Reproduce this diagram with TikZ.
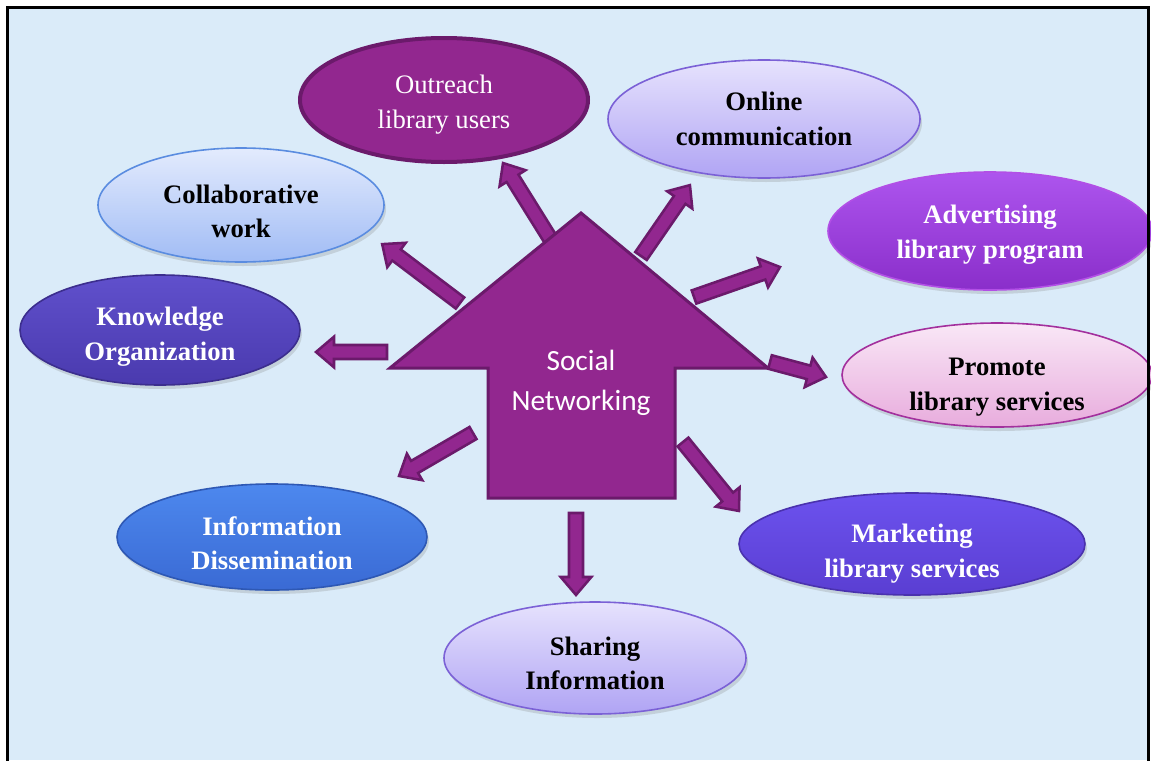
\documentclass[tikz,border=0pt]{standalone}
\usepackage{fontspec}
\setmainfont{Liberation Serif}
\newfontfamily\calibfont{Carlito}
\usepackage{tikz}
\usetikzlibrary{shapes.geometric,calc,shadows}
\definecolor{pageBlue}{HTML}{DAEBF9}
\definecolor{plumFill}{HTML}{92278F}
\definecolor{plumDraw}{HTML}{6B1A6B}
\definecolor{lavTop}{HTML}{E6E2FD}
\definecolor{lavBot}{HTML}{B0A4F4}
\definecolor{lavDraw}{HTML}{7B61D6}
\definecolor{skyTop}{HTML}{E3EBFD}
\definecolor{skyBot}{HTML}{A1BCF5}
\definecolor{skyDraw}{HTML}{5A8CE0}
\definecolor{violTop}{HTML}{AD55EE}
\definecolor{violBot}{HTML}{8A2ECA}
\definecolor{violDraw}{HTML}{B24FE6}
\definecolor{indTop}{HTML}{6050CC}
\definecolor{indBot}{HTML}{4A3AAE}
\definecolor{indDraw}{HTML}{3C2E8E}
\definecolor{pinkTop}{HTML}{F9E7F6}
\definecolor{pinkBot}{HTML}{E8ACDD}
\definecolor{pinkDraw}{HTML}{A3309D}
\definecolor{blueTop}{HTML}{4D88EE}
\definecolor{blueBot}{HTML}{3A6AD4}
\definecolor{blueDraw}{HTML}{2E58B4}
\definecolor{mktTop}{HTML}{6C52EE}
\definecolor{mktBot}{HTML}{5A3ED2}
\definecolor{mktDraw}{HTML}{4A32AE}

% thick outlined arrow from tail #1 to tip #2
\newcommand\blockarrow[2]{%
  \draw[smallarrow] let \p1=($(#2)-(#1)$), \n1={atan2(\y1,\x1)}, \n2={veclen(\x1,\y1)} in
    [shift={(#1)}, rotate=\n1]
    (0pt,5.25pt) -- ({\n2*1pt-13.5pt},5.25pt) -- ({\n2*1pt-13.5pt},11.5pt)
    -- ({\n2*1pt},0pt) -- ({\n2*1pt-13.5pt},-11.5pt) -- ({\n2*1pt-13.5pt},-5.25pt)
    -- (0pt,-5.25pt) -- cycle;}

\begin{document}
\begin{tikzpicture}[
  x=0.75pt, y=-0.75pt,
  bubble/.style={ellipse, inner xsep=0pt, inner ysep=-12pt, align=center, line width=1.2pt,
                 font=\fontsize{20}{26}\selectfont\bfseries},
  textdrop/.style={text height=#1},
  gloss/.style={drop shadow={shadow xshift=1.5pt, shadow yshift=-3pt, opacity=0.25}},
  smallarrow/.style={draw=plumDraw, fill=plumFill, line width=1.9pt, line join=miter},
]
\useasboundingbox (0,0) rectangle (1151,760);
\fill[pageBlue] (8,8) rectangle (1148,760);

% ---- Bubbles ----
\node[bubble, fill=plumFill, draw=plumDraw, line width=3pt, text=white, textdrop=46.5pt,
      font=\fontsize{20}{26}\selectfont, minimum width=216pt, minimum height=93pt]
  (outreach) at (444,100) {Outreach\\library users};
\node[bubble, gloss, top color=lavTop, bottom color=lavBot, draw=lavDraw,
      minimum width=234pt, minimum height=88.5pt]
  (online) at (764,119) {Online\\communication};
\node[bubble, gloss, top color=skyTop, bottom color=skyBot, draw=skyDraw, textdrop=49.5pt,
      minimum width=214.5pt, minimum height=85.5pt]
  (collab) at (241,205) {Collaborative\\work};
\node[bubble, gloss, top color=violTop, bottom color=violBot, draw=violDraw, text=white,
      textdrop=45pt, minimum width=243pt, minimum height=88.5pt]
  (advert) at (990,231) {Advertising\\library program};
\node[bubble, gloss, top color=indTop, bottom color=indBot, draw=indDraw, text=white,
      textdrop=49.5pt, minimum width=210pt, minimum height=82.5pt]
  (knowledge) at (160,330) {Knowledge\\Organization};
\node[bubble, gloss, top color=pinkTop, bottom color=pinkBot, draw=pinkDraw, textdrop=57pt,
      minimum width=232.5pt, minimum height=78pt]
  (promote) at (997,375) {Promote\\library services};
\node[bubble, gloss, top color=blueTop, bottom color=blueBot, draw=blueDraw, text=white,
      textdrop=49.5pt, minimum width=232.5pt, minimum height=79.5pt]
  (dissem) at (272,537) {Information\\Dissemination};
\node[bubble, gloss, top color=mktTop, bottom color=mktBot, draw=mktDraw, text=white,
      textdrop=54pt, minimum width=259.5pt, minimum height=76.5pt]
  (market) at (912,544) {Marketing\\library services};
\node[bubble, gloss, top color=lavTop, bottom color=lavBot, draw=lavDraw, textdrop=48pt,
      minimum width=226.5pt, minimum height=84pt]
  (sharing) at (595,658) {Sharing\\Information};

% ---- Arrow ends ----
\foreach \spoke/\tx/\ty/\hx/\hy in {
    outreach/551/240/503/163, online/641/256/690/185, collab/460/303/382/244,
    advert/694/297/780/267, knowledge/387/352/316/352, promote/770/362/826/377,
    dissem/473/433/399/476, sharing/576/513/576/595, market/683/442/739/511}{
  \coordinate (\spoke-tail) at (\tx,\ty);
  \coordinate (\spoke-tip) at (\hx,\hy);
}

% ---- Spokes ----
\foreach \spoke in {outreach,online,collab,advert,knowledge,promote,dissem,sharing,market}
  \blockarrow{\spoke-tail}{\spoke-tip};

% ---- Central arrow ----
\draw[fill=plumFill, draw=plumDraw, line width=2.25pt, line join=miter]
  (581,213) -- (768,368) -- (675,368) -- (675,498) -- (488,498) -- (488,368)
  -- (390,368) -- cycle;
\node[text=white, align=center, font=\calibfont\fontsize{22}{30}\selectfont]
  (hub) at (581,383) {Social\\Networking};

% ---- Frame ----
\draw[line width=1.9pt] (7.5,770) -- (7.5,7.5) -- (1148.5,7.5) -- (1148.5,770);
\end{tikzpicture}
\end{document}
